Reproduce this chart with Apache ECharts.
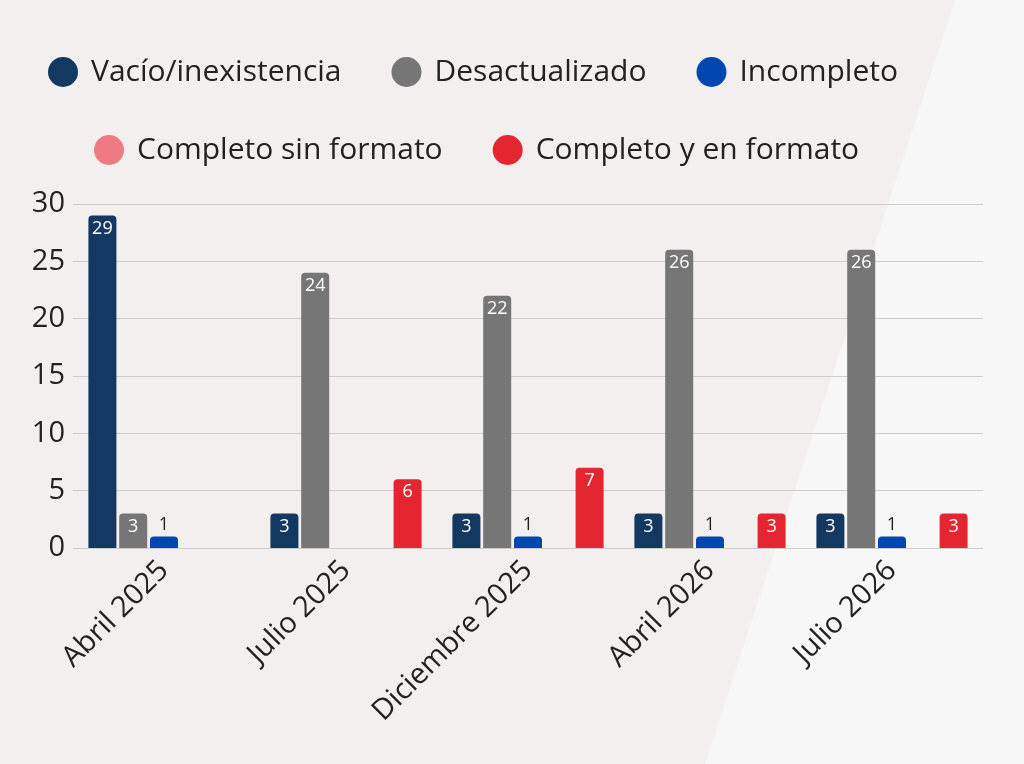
<!DOCTYPE html>
<html><head><meta charset="utf-8">
<script src="https://cdn.jsdelivr.net/npm/echarts@6/dist/echarts.min.js"></script>
<style>html,body{margin:0;padding:0;background:#f3efef}#c{width:1024px;height:764px}</style>
</head><body><div id="c"></div>
<script>
const categories = ['Abril 2025','Julio 2025','Diciembre 2025','Abril 2026','Julio 2026'];
const vacio = [29,3,3,3,3];
const desact = [3,24,22,26,26];
const incompleto = [1,null,1,1,1];
const sinFormato = [null,null,null,null,null];
const enFormato = [null,6,7,3,3];
const yTicks = [0,5,10,15,20,25,30];

const font = 'Open Sans';
function s(name, data, color, pos) {
  return {
    name, type:'bar', data, barWidth:28, barGap:'10%',
    itemStyle:{color, borderRadius:[4,4,0,0]},
    label:{show:true, position:pos||'insideTop', distance:pos?3:4, color:pos?'#222':'#fff', fontFamily:font, fontSize:18}
  };
}
const lt = {fontFamily:font, fontSize:30, color:'#222', padding:[0,0,0,8]};
const chart = echarts.init(document.getElementById('c'));
chart.setOption({
  backgroundColor:'#f3efef',
  graphic:[{type:'polygon', z:-10, shape:{points:[[955,0],[1024,0],[1024,764],[705,764]]}, style:{fill:'#f8f7f7'}}],
  legend:[
    {data:['Vacío/inexistencia','Desactualizado','Incompleto'], top:52, left:43, icon:'circle', itemWidth:30, itemHeight:30, itemGap:50, textStyle:lt},
    {data:['Completo sin formato','Completo y en formato'], top:130, left:89, icon:'circle', itemWidth:30, itemHeight:30, itemGap:50, textStyle:lt}
  ],
  grid:{left:73, right:41, top:204, bottom:216, containLabel:false},
  xAxis:{type:'category', data:categories, axisTick:{show:false}, axisLine:{show:false},
    axisLabel:{rotate:45, fontFamily:font, fontSize:29, color:'#222', margin:18, interval:0}},
  yAxis:{type:'value', min:0, max:30, interval:5,
    axisLabel:{fontFamily:font, fontSize:29, color:'#222', margin:8, customValues:yTicks},
    splitLine:{lineStyle:{color:'#cfcccc'}}},
  series:[
    s('Vacío/inexistencia', vacio, '#133962'),
    s('Desactualizado', desact, '#767676'),
    s('Incompleto', incompleto, '#0047b0', 'top'),
    s('Completo sin formato', sinFormato, '#f07a84'),
    s('Completo y en formato', enFormato, '#e42631')
  ]
});
</script></body></html>
